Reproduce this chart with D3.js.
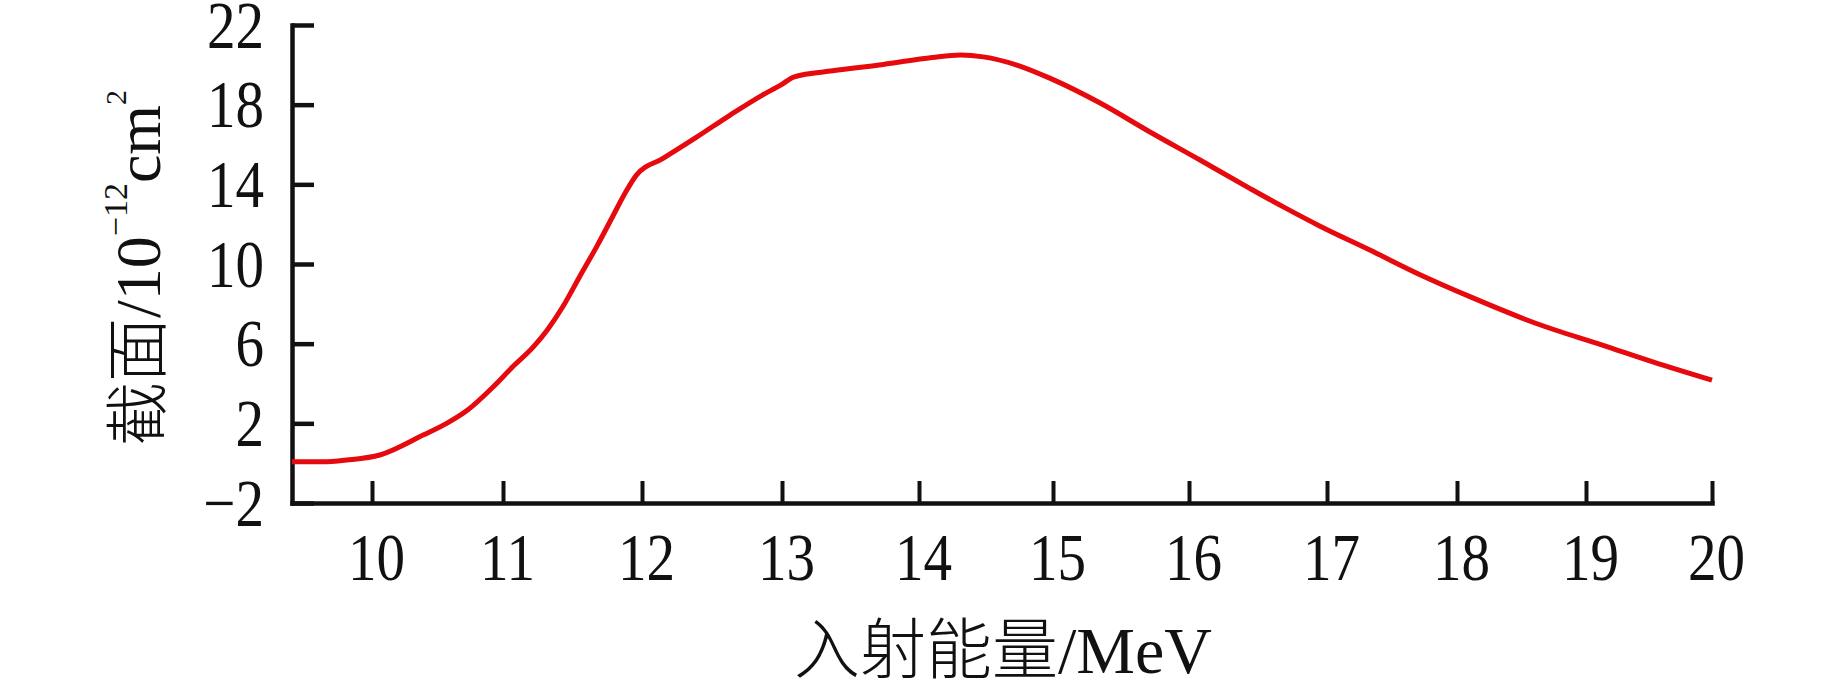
<!DOCTYPE html>
<html>
<head>
<meta charset="utf-8">
<script src="https://cdn.jsdelivr.net/npm/d3@7"></script>
<style>
  body { margin: 0; background: #fff; }
  .axis path, .axis line { stroke: #111; }
  .axis text { fill: #111; font-family: "Liberation Serif", "Times New Roman", serif; }
</style>
</head>
<body>
<div id="chart"></div>
<script>
(function(){
        // Data
        const energy = [9.4, 9.63, 9.81, 10.06, 10.39, 10.57, 10.73, 10.92, 11.07, 11.22, 11.32, 11.43,
            11.55, 11.68, 11.79, 11.89, 11.96, 12.15, 12.39, 12.63, 12.86, 12.99, 13.09, 13.37,
            13.74, 14.10, 14.31, 14.48, 14.73, 14.98, 15.35, 15.71, 16.08, 16.44, 16.68, 16.95,
            17.33, 17.72, 18.10, 18.62, 19.13, 19.53, 20.0];
        const crossSection = [0.07, 0.07, 0.16, 0.41, 1.41, 2.0, 2.67, 3.8, 4.84, 5.85, 6.7, 7.85,
            9.35, 10.95, 12.4, 13.7, 14.46, 15.3, 16.37, 17.48, 18.48, 18.98, 19.4, 19.7,
            20.02, 20.37, 20.49, 20.4, 19.99, 19.32, 18.07, 16.64, 15.22, 13.8, 12.88, 11.9,
            10.7, 9.45, 8.36, 7.0, 5.93, 5.09, 4.17];
        const xTicks = [10, 11, 12, 13, 14, 15, 16, 17, 18, 19, 20];
        const yTicks = [-2, 2, 6, 10, 14, 18, 22];
        const xStart = 9.4;

        const width = 1843;
        const height = 682;
        const left = 292, right = 1712, top = 25, bottom = 503;

        // the printed ticks are not evenly spaced, so the x scale is calibrated on each of them
        const xTickPx = [left, 372, 503, 642, 782, 919, 1053, 1189, 1327, 1457, 1586, right];

        const svg = d3.select("#chart")
            .append("svg")
            .attr("width", width)
            .attr("height", height);

        const x = d3.scaleLinear()
            .domain([xStart].concat(xTicks))
            .range(xTickPx);

        const y = d3.scaleLinear()
            .domain([-2, 22])
            .range([bottom, top]);

        const fontFamily = '"Liberation Serif", "Times New Roman", "Noto Sans CJK SC", serif';
        const sx = 0.84; // tick digits are narrow in the original

        // y axis, ticks pointing inward
        const gy = svg.append("g")
            .attr("class", "axis")
            .attr("transform", `translate(${left},0)`)
            .call(d3.axisLeft(y).tickValues(yTicks).tickSizeInner(-22).tickSizeOuter(0)
                .tickFormat(d3.format("d")));
        gy.select(".domain").attr("stroke-width", 4.5).attr("stroke-linecap", "square");
        gy.selectAll(".tick line").attr("stroke-width", 4.5);
        gy.selectAll(".tick text")
            .attr("x", null)
            .attr("dy", null)
            .attr("transform", `translate(-28,22) scale(${sx},1)`)
            .style("font-size", "68px");

        // x axis
        const gx = svg.append("g")
            .attr("class", "axis")
            .attr("transform", `translate(0,${bottom})`)
            .call(d3.axisBottom(x).tickValues(xTicks).tickSizeInner(-22).tickSizeOuter(0)
                .tickFormat(d3.format("d")));
        gx.select(".domain").attr("stroke-width", 4.5).attr("stroke-linecap", "square");
        gx.selectAll(".tick line").attr("stroke-width", 4);
        gx.selectAll(".tick text")
            .attr("y", null)
            .attr("dy", null)
            .attr("transform", `translate(4,77) scale(${sx},1)`)
            .style("font-size", "68px");

        // curve
        const pts = energy.map((e, i) => [e, crossSection[i]]);
        const line = d3.line()
            .x(d => x(d[0]))
            .y(d => y(d[1]))
            .curve(d3.curveMonotoneX);

        svg.append("path")
            .attr("d", line(pts))
            .attr("fill", "none")
            .attr("stroke", "#e60a0f")
            .attr("stroke-width", 5);

        // axis titles
        svg.append("text")
            .attr("x", 1003)
            .attr("y", 673)
            .attr("text-anchor", "middle")
            .style("font-family", fontFamily)
            .style("font-size", "66px")
            .style("font-weight", 300)
            .attr("fill", "#111")
            .text("入射能量/MeV");

        const yt = svg.append("text")
            .attr("transform", "translate(160,268) rotate(-90)")
            .attr("text-anchor", "middle")
            .style("font-family", fontFamily)
            .style("font-size", "64px")
            .style("font-weight", 300)
            .attr("fill", "#111");
        yt.append("tspan").text("截面/10");
        yt.append("tspan").attr("dy", -33).style("font-size", "34px").text("−12");
        yt.append("tspan").attr("dy", 33).text("cm");
        yt.append("tspan").attr("dy", -34).style("font-size", "30px").text("2");
})();
</script>
</body>
</html>
